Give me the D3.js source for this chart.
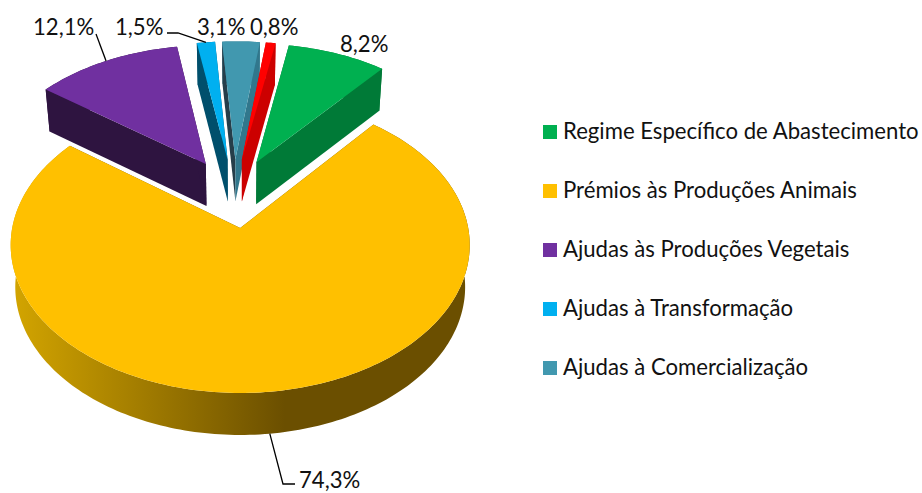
<!DOCTYPE html>
<html>
<head>
<meta charset="utf-8">
<script src="https://cdnjs.cloudflare.com/ajax/libs/d3/7.8.5/d3.min.js"></script>
<style>
html, body { margin: 0; padding: 0; background: #fff; }
svg { display: block; }
text { font-family: Lato, "Open Sans", sans-serif; fill: #111; }
</style>
</head>
<body>
<div id="chart"></div>
<script>
// slices, clockwise from the first slice angle
var values = [8.2, 74.3, 12.1, 1.5, 3.1, 0.8];
var valueLabels = ["8,2%", "74,3%", "12,1%", "1,5%", "3,1%", "0,8%"];
// the last slice has no entry in the legend of the original
var categories = [
	"Regime Específico de Abastecimento",
	"Prémios às Produções Animais",
	"Ajudas às Produções Vegetais",
	"Ajudas à Transformação",
	"Ajudas à Comercialização"
];
var topColors = ["#00B050", "#FFC000", "#7030A0", "#00B0F0", "#4198AF", "#FF0000"];
var startWallColors = ["#007A37", "#6B4F00", "#2E1440", "#004F6C", "#263E4A", "#CC0000"];
var endWallColors = ["#007A37", "#6B4F00", "#2E1440", "#004F6C", "#31778C", "#CC0000"];
var arcWallColors = ["#007A37", "url(#yellowSide)", "#2E1440", "#004F6C", "#31778C", "#CC0000"];

var width = 922, height = 493;

// projection of the tilted pie
var originX = 240.2, originY = 228;
var radiusX = 228, radiusY = 146;
var perspective = 0.1149;
var depth = 42;
var depthShrink = 0.02;
var explode = 0.25;
var firstAngle = 10 * Math.PI / 180;
var anchorSlice = 1; // the big slice sits at the origin, the others move away from it

var xScale = d3.scaleLinear().domain([-1, 1]).range([originX - radiusX, originX + radiusX]);
var yScale = d3.scaleLinear().domain([-1, 1]).range([originY - radiusY, originY + radiusY]);

var slices = d3.pie().sort(null).startAngle(firstAngle).endAngle(firstAngle + 2 * Math.PI)(values);

function dir(a) { return [Math.sin(a), -Math.cos(a)]; }
function midAngle(d) { return (d.startAngle + d.endAngle) / 2; }

var anchorDir = dir(midAngle(slices[anchorSlice]));

function apex(d) {
	var m = dir(midAngle(d));
	return [explode * (m[0] - anchorDir[0]), explode * (m[1] - anchorDir[1])];
}

function project(p, z) {
	var w = 1 - perspective * p[1];
	var x = xScale(p[0] / w);
	var y = yScale(p[1] / w);
	return [originX + (x - originX) * (1 - depthShrink * z), y + depth * z];
}

function rimPoint(d, a) {
	var c = apex(d), r = dir(a);
	return [c[0] + r[0], c[1] + r[1]];
}

function rim(d, z) {
	var n = Math.max(4, Math.ceil((d.endAngle - d.startAngle) / 0.02));
	return d3.range(n + 1).map(function(i) {
		return project(rimPoint(d, d.startAngle + (d.endAngle - d.startAngle) * i / n), z);
	});
}

var line = d3.line().curve(d3.curveLinear);

function topPath(d) {
	return line([project(apex(d), 0)].concat(rim(d, 0))) + "Z";
}
function arcWallPath(d) {
	return line(rim(d, 0).concat(rim(d, 1).reverse())) + "Z";
}
function radialWallPath(d, a) {
	var c = apex(d), e = rimPoint(d, a);
	return line([project(c, 0), project(e, 0), project(e, 1), project(c, 1)]) + "Z";
}

var svg = d3.select("#chart").append("svg")
		.attr("width", width)
		.attr("height", height);

var grad = svg.append("defs").append("linearGradient")
		.attr("id", "yellowSide")
		.attr("gradientUnits", "userSpaceOnUse")
		.attr("x1", 15).attr("x2", 285)
		.attr("y1", 0).attr("y2", 0);
grad.append("stop").attr("offset", 0).attr("stop-color", "#D2A400");
grad.append("stop").attr("offset", 1).attr("stop-color", "#6B4F00");

// big slice goes last, its top face is in front of the small ones
var order = d3.range(slices.length).filter(function(i) { return i != anchorSlice; }).concat([anchorSlice]);

var groups = svg.append("g").attr("id", "pie")
		.selectAll("g")
		.data(order)
		.enter()
		.append("g");

groups.append("path")
		.attr("d", function(i) { return arcWallPath(slices[i]); })
		.style("fill", function(i) { return arcWallColors[i]; });
groups.append("path")
		.attr("d", function(i) { return radialWallPath(slices[i], slices[i].startAngle); })
		.style("fill", function(i) { return startWallColors[i]; });
groups.append("path")
		.attr("d", function(i) { return radialWallPath(slices[i], slices[i].endAngle); })
		.style("fill", function(i) { return endWallColors[i]; });
groups.append("path")
		.attr("d", function(i) { return topPath(slices[i]); })
		.style("fill", function(i) { return topColors[i]; });

// value labels, same order as values: text position and leader elbow (if any)
var labelX = [340, 299, 33, 115, 197, 250];
var labelY = [52, 488, 35, 35, 35, 35];
var leaderElbows = [null, [[295, 484], [283, 484]], [[96, 34]], [[167, 33], [178, 33]], null, null];
var leaderDepth = [0, 1, 0, 0, 0, 0];

var labelSize = 22.15;

svg.append("g").attr("id", "leaders")
		.selectAll("path")
		.data(d3.range(values.length).filter(function(i) { return leaderElbows[i]; }))
		.enter()
		.append("path")
		.attr("d", function(i) {
			var d = slices[i];
			return line(leaderElbows[i].concat([project(rimPoint(d, midAngle(d)), leaderDepth[i])]));
		})
		.style("fill", "none")
		.style("stroke", "#000")
		.style("stroke-width", 1.3);

svg.append("g").attr("id", "labels")
		.selectAll("text")
		.data(valueLabels)
		.enter()
		.append("text")
		.attr("x", function(d, i) { return labelX[i]; })
		.attr("y", function(d, i) { return labelY[i]; })
		.style("font-size", labelSize + "px")
		.text(function(d) { return d; });

// legend
var legendY = d3.scalePoint().domain(categories).range([132, 368]);

var legend = svg.append("g").attr("id", "legend")
		.selectAll("g")
		.data(categories)
		.enter()
		.append("g");

legend.append("rect")
		.attr("x", 543)
		.attr("y", function(d) { return legendY(d) - 7; })
		.attr("width", 14)
		.attr("height", 14)
		.style("fill", function(d, i) { return topColors[i]; });

legend.append("text")
		.attr("x", 563)
		.attr("y", function(d) { return legendY(d) + 7; })
		.style("font-size", labelSize + "px")
		.text(function(d) { return d; });
</script>
</body>
</html>
